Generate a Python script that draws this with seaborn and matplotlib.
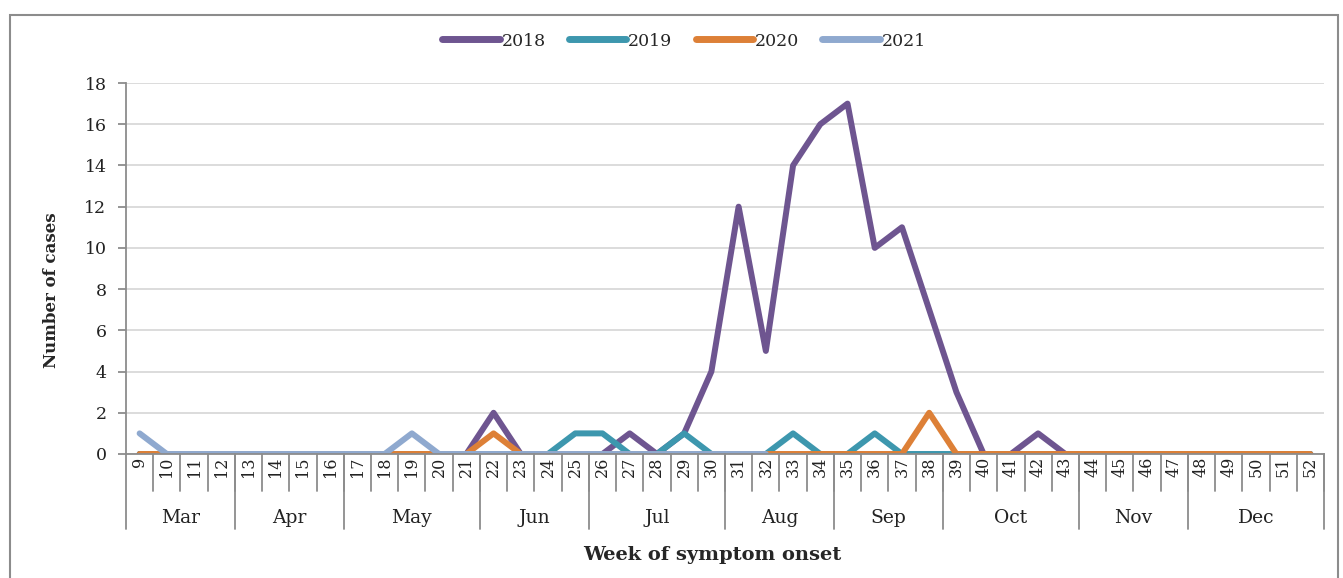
import numpy as np
import pandas as pd
import matplotlib.pyplot as plt
import seaborn as sns
from matplotlib.patches import Rectangle

# data
weeks = list(range(9, 53))
cases_2018 = [0] * 12 + [0, 2, 0, 0, 0, 0, 1, 0, 1, 4, 12, 5, 14, 16, 17, 10, 11, 7, 3, 0, 0, 1, 0] + [0] * 9
cases_2019 = [0] * 16 + [1, 1, 0, 0, 1, 0, 0, 0, 1, 0, 0, 1, 0, 0] + [0] * 14
cases_2020 = [0] * 13 + [1] + [0] * 15 + [2] + [0] * 14
cases_2021 = [1] + [0] * 9 + [1] + [0] * 13 + [np.nan] * 20
months = ['Mar', 'Apr', 'May', 'Jun', 'Jul', 'Aug', 'Sep', 'Oct', 'Nov', 'Dec']
weeks_per_month = [4, 4, 5, 4, 5, 4, 4, 5, 4, 5]

years = ['2018', '2019', '2020', '2021']
colors = ['#6E5590', '#3D97AE', '#DD8037', '#8FA9CF']

df = pd.DataFrame({
    'week': weeks * 4,
    'year': np.repeat(years, len(weeks)),
    'cases': cases_2018 + cases_2019 + cases_2020 + cases_2021,
})

sns.set_style('white')
plt.rcParams['font.family'] = ['DejaVu Serif']
W, H = 1343, 578
fig = plt.figure(figsize=(W / 100, H / 100), dpi=100)
ax = fig.add_axes([126 / W, 1 - 454 / H, (1324 - 126) / W, (454 - 83) / H])

sns.lineplot(data=df, x='week', y='cases', hue='year', palette=colors, ax=ax,
             linewidth=4.3, solid_capstyle='round', solid_joinstyle='round', legend=True)

ax.set_xlim(8.5, 52.5)
ax.set_ylim(0, 18)
ax.set_yticks(range(0, 19, 2))
ax.yaxis.grid(True, color='#D9D9D9', linewidth=1.3)
ax.set_axisbelow(True)
ax.set_xticks([])
ax.set_xlabel('')
ax.set_ylabel('')
for s in ['top', 'right']:
    ax.spines[s].set_visible(False)
ax.spines['left'].set_color('#8C8C8C')
ax.spines['bottom'].set_color('#8C8C8C')
ax.spines['left'].set_linewidth(1.3)
ax.spines['bottom'].set_linewidth(1.3)
ax.tick_params(axis='y', direction='out', length=6, width=1.3, color='#8C8C8C',
               left=True, pad=8, labelsize=12.5, labelcolor='#222222')

# two-level category axis
trans = ax.get_xaxis_transform()
for w in weeks:
    ax.text(w, -0.008, str(w), rotation=90, ha='center', va='top', fontsize=11.5,
            transform=trans, color='#222222')
    ax.plot([w + 0.5, w + 0.5], [0, -0.1], transform=trans, color='#8C8C8C',
            lw=1.3, clip_on=False)
edges = np.concatenate([[weeks[0]], weeks[0] + np.cumsum(weeks_per_month)]) - 0.5
for m, a, b in zip(months, edges[:-1], edges[1:]):
    ax.text((a + b) / 2, -0.172, m, ha='center', va='center', fontsize=13.5,
            transform=trans, color='#222222')
for e in edges:
    ax.plot([e, e], [0, -0.202], transform=trans, color='#8C8C8C', lw=1.3, clip_on=False)

fig.text(712 / W, 1 - 555 / H, 'Week of symptom onset', ha='center', va='center',
         fontsize=14, fontweight='bold')
fig.text(52 / W, 1 - 290 / H, 'Number of cases', rotation=90, ha='center', va='center',
         fontsize=12, fontweight='bold')

leg = ax.legend(loc='center', bbox_to_anchor=(684 / W, 1 - 41 / H), bbox_transform=fig.transFigure,
                ncol=4, frameon=False, fontsize=12.5, handlelength=3.3, handletextpad=0.1,
                columnspacing=1.35)
for line in leg.get_lines():
    line.set_linewidth(5)

fig.add_artist(Rectangle((10 / W, -0.1), (1338 - 10) / W, 1.1 - 15 / H, transform=fig.transFigure,
                         fill=False, edgecolor='#8C8C8C', linewidth=1.5))

fig.savefig('out.png', dpi=100)
